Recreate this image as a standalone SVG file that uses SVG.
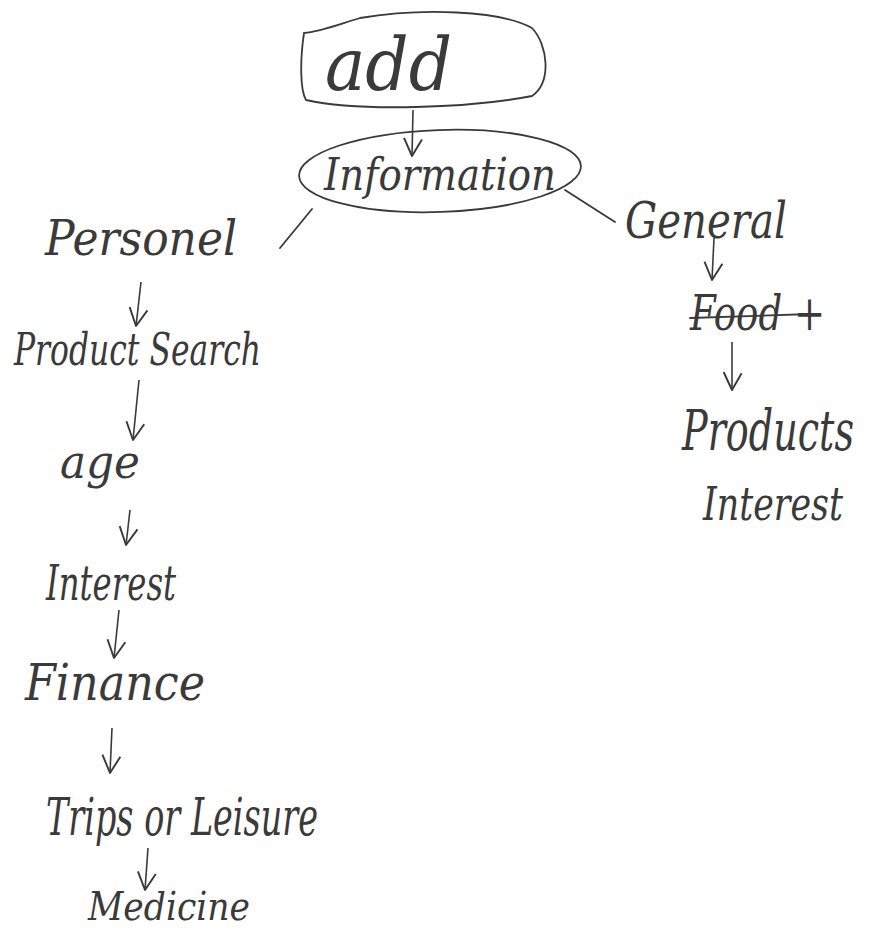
<svg xmlns="http://www.w3.org/2000/svg" width="871" height="930" viewBox="0 0 871 930">
<defs>
<marker id="v" viewBox="0 0 20 20" refX="18" refY="10" markerWidth="24" markerHeight="24" markerUnits="userSpaceOnUse" orient="auto">
<polyline points="4,2 18,10 3,17" fill="none" stroke="#3a3a3a" stroke-width="1.6" stroke-linejoin="round"/>
</marker>
</defs>
<style>
text{font-family:"DejaVu Serif","Liberation Serif",serif;font-style:italic;fill:#3a3a3a;}
.s{fill:none;stroke:#3a3a3a;stroke-width:1.8;stroke-linecap:round;}
.a{fill:none;stroke:#3a3a3a;stroke-width:1.6;marker-end:url(#v);}
</style>
<rect width="871" height="930" fill="#ffffff"/>
<g id="node-add">
<path class="s" d="M304,33 C300,60 300,90 306,100 C360,112 470,108 532,96 C552,82 548,45 532,28 C500,10 420,8 360,18 C340,24 320,32 304,33 Z"/>
<text x="325" y="90" font-size="72" textLength="127" lengthAdjust="spacingAndGlyphs">add</text>
</g>
<g id="node-information">
<ellipse class="s" cx="440" cy="171" rx="141" ry="41" transform="rotate(-2 440 171)"/>
<text x="324" y="190" font-size="44" textLength="232" lengthAdjust="spacingAndGlyphs">Information</text>
</g>
<g id="node-personel"><text x="45" y="255" font-size="48" textLength="192" lengthAdjust="spacingAndGlyphs">Personel</text></g>
<g id="node-general"><text x="625" y="238" font-size="50" textLength="162" lengthAdjust="spacingAndGlyphs">General</text></g>
<g id="node-product-search"><text x="14" y="365" font-size="44" textLength="247" lengthAdjust="spacingAndGlyphs">Product Search</text></g>
<g id="node-age"><text x="60" y="478" font-size="46" textLength="80" lengthAdjust="spacingAndGlyphs">age</text></g>
<g id="node-interest-left"><text x="46" y="600" font-size="48" textLength="130" lengthAdjust="spacingAndGlyphs">Interest</text></g>
<g id="node-finance"><text x="25" y="700" font-size="50" textLength="180" lengthAdjust="spacingAndGlyphs">Finance</text></g>
<g id="node-trips"><text x="46" y="835" font-size="52" textLength="272" lengthAdjust="spacingAndGlyphs">Trips or Leisure</text></g>
<g id="node-medicine"><text x="88" y="920" font-size="40" textLength="162" lengthAdjust="spacingAndGlyphs">Medicine</text></g>
<g id="node-food">
<text x="690" y="330" font-size="48" textLength="135" lengthAdjust="spacingAndGlyphs">Food +</text>
<line class="s" x1="690" y1="318" x2="812" y2="314"/>
</g>
<g id="node-products"><text transform="translate(682,450) scale(1,1.45)" font-size="38" textLength="172" lengthAdjust="spacingAndGlyphs">Products</text></g>
<g id="node-interest-right"><text transform="translate(703,520) scale(1,1.3)" font-size="36" textLength="140" lengthAdjust="spacingAndGlyphs">Interest</text></g>
<g id="connectors">
<path class="a" d="M413,110 L412,156"/>
<path class="s" d="M312,209 L280,248"/>
<path class="s" d="M565,190 L615,222"/>
<path class="a" d="M141,282 L136,326"/>
<path class="a" d="M139,380 L133,440"/>
<path class="a" d="M130,510 L126,545"/>
<path class="a" d="M119,610 L114,658"/>
<path class="a" d="M112,728 L110,773"/>
<path class="a" d="M148,848 L145,890"/>
<path class="a" d="M714,238 L712,280"/>
<path class="a" d="M732,342 L732,390"/>
</g>
</svg>
